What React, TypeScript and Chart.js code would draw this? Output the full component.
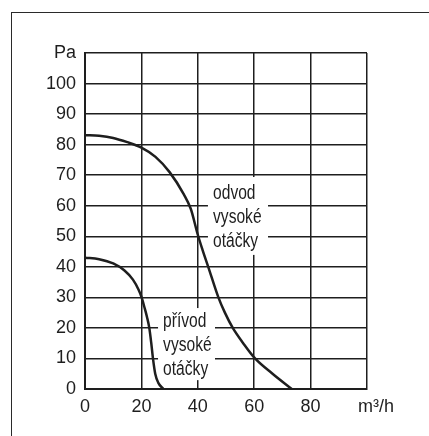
import { useEffect, useRef } from 'react'
import { Chart, registerables } from 'chart.js'

Chart.register(...registerables)

// odvod vysoké otáčky
const odvodQ  = [0, 5, 10, 15, 20, 25, 30, 35, 37.5, 40, 41.7, 43.7, 47.3, 49.6, 52.4, 56.1, 60.3, 66.5, 73.3]
const odvodPa = [83.1, 82.9, 82.2, 80.8, 79, 76, 71, 63.8, 59, 50.5, 45.5, 40, 30, 25, 20, 15, 10, 5, 0]
// přívod vysoké otáčky
const privodQ  = [0, 5, 10, 14, 17, 19, 20, 21, 22, 22.8, 23.5, 24.1, 24.9, 26, 27.8]
const privodPa = [43, 42.5, 41.1, 38.8, 35.8, 32.5, 30.2, 27, 23.5, 20, 15, 10, 5, 2, 0]

const xMax = 100, xStep = 20
const yMax = 110, yStep = 10
const xUnit = '\u2002\u2002m³/h'
const yUnit = 'Pa'

const FONT = "'Liberation Sans', Arial, sans-serif"
const INK = '#1e1e1e'

// white label boxes over the grid (data coords)
const boxes = [
  { lines: ['odvod', 'vysoké', 'otáčky'], x0: 43.6, x1: 64.9, y0: 43.9, y1: 69.4, tx: 45.4, ty: 62.2 },
  { lines: ['přívod', 'vysoké', 'otáčky'], x0: 25.9, x1: 46.1, y0: 2.9, y1: 26.5, tx: 27.7, ty: 20.3 },
]

const labelBoxes = {
  id: 'labelBoxes',
  beforeDatasetsDraw(chart: Chart) {
    const { ctx, scales: { x, y } } = chart
    ctx.save()
    boxes.forEach((b) => {
      const l = x.getPixelForValue(b.x0), r = x.getPixelForValue(b.x1)
      const t = y.getPixelForValue(b.y1), bt = y.getPixelForValue(b.y0)
      ctx.fillStyle = '#ffffff'
      ctx.fillRect(l, t, r - l, bt - t)
      const tx = x.getPixelForValue(b.tx), ty = y.getPixelForValue(b.ty)
      ctx.save()
      ctx.translate(tx, ty)
      ctx.scale(0.8, 1) // condensed look
      ctx.fillStyle = INK
      ctx.font = `19.5px ${FONT}`
      ctx.textAlign = 'left'
      ctx.textBaseline = 'alphabetic'
      b.lines.forEach((s, i) => ctx.fillText(s, 0, i * 24))
      ctx.restore()
    })
    ctx.restore()
  },
}

const App = () => {
  const canvasRef = useRef<HTMLCanvasElement>(null)

  useEffect(() => {
    if (!canvasRef.current) return
    const chart = new Chart(canvasRef.current, {
      type: 'line',
      data: {
        datasets: [
          { data: odvodQ.map((q, i) => ({ x: q, y: odvodPa[i] })), borderColor: INK, borderWidth: 2.5, pointRadius: 0, cubicInterpolationMode: 'monotone', fill: false },
          { data: privodQ.map((q, i) => ({ x: q, y: privodPa[i] })), borderColor: INK, borderWidth: 2.5, pointRadius: 0, cubicInterpolationMode: 'monotone', fill: false },
        ],
      },
      options: {
        animation: false,
        responsive: false,
        devicePixelRatio: 1,
        layout: { padding: { top: 53, right: 62, left: 0, bottom: 0 } },
        plugins: { legend: { display: false }, tooltip: { enabled: false } },
        scales: {
          x: {
            type: 'linear', min: 0, max: xMax,
            ticks: { stepSize: xStep, autoSkip: false, padding: 7, color: INK, font: { family: FONT, size: 18 }, maxRotation: 0, callback: (v) => (v === xMax ? xUnit : `${v}`) },
            grid: { color: INK, lineWidth: 1.5, drawTicks: false },
            border: { color: INK, width: 2 },
            afterFit: (s) => { s.height = 47; s.paddingLeft = 0; s.paddingRight = 0 },
          },
          y: {
            type: 'linear', min: 0, max: yMax,
            ticks: { stepSize: yStep, autoSkip: false, padding: 9, color: INK, font: { family: FONT, size: 18 }, callback: (v) => (v === yMax ? yUnit : `${v}`) },
            grid: { color: INK, lineWidth: 1.5, drawTicks: false },
            border: { color: INK, width: 2 },
            afterFit: (s) => { s.width = 85; s.paddingTop = 0; s.paddingBottom = 0 },
          },
        },
      },
      plugins: [labelBoxes],
    })
    return () => { chart.destroy() }
  }, [])

  return (
    <div style={{ position: 'fixed', left: 0, top: 0, width: 429, height: 436, background: '#ffffff', overflow: 'hidden' }}>
      <div style={{ position: 'absolute', left: 11, top: 12, right: 0, bottom: 0, borderTop: '1px solid #2a2a2a', borderLeft: '1px solid #2a2a2a' }} />
      <canvas ref={canvasRef} width={429} height={436} style={{ position: 'absolute', left: 0, top: 0 }} />
    </div>
  )
}

export default App
